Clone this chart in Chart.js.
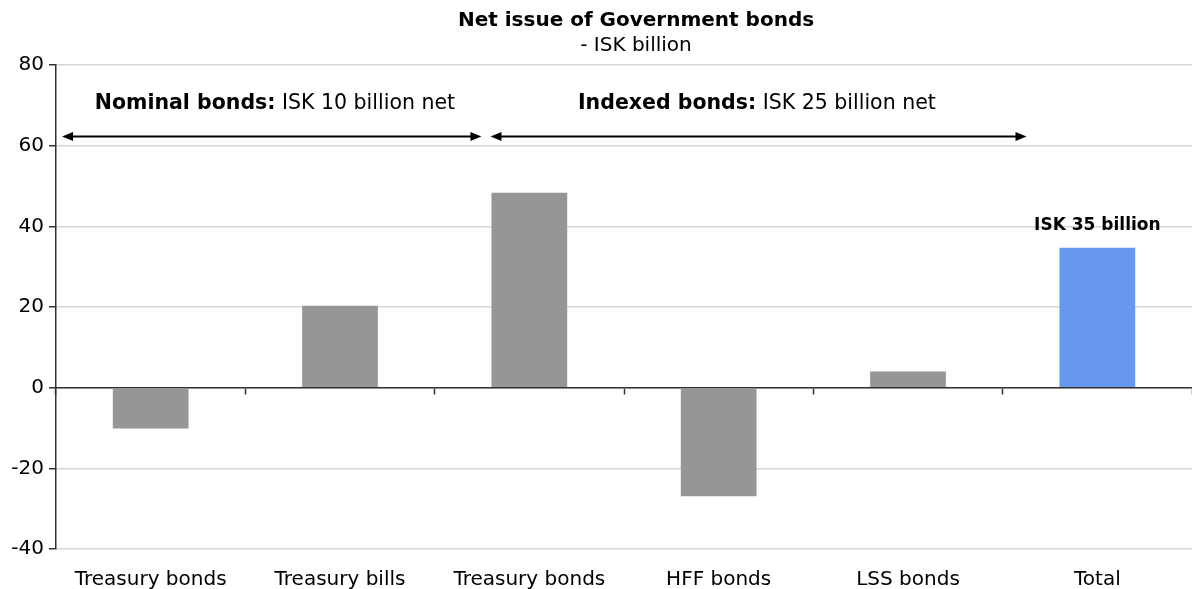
<!DOCTYPE html>
<html>
<head>
<meta charset="utf-8">
<script src="https://cdn.jsdelivr.net/npm/chart.js@4/dist/chart.umd.min.js"></script>
<style>
  html, body { margin: 0; padding: 0; background: #fff; }
  #wrap { width: 1192px; height: 589px; position: relative; }
</style>
</head>
<body>
<div id="wrap"><canvas id="bondsChart"></canvas></div>
<script>
// Categories and values (ISK billion)
const categories = ['Treasury bonds', 'Treasury bills', 'Treasury bonds', 'HFF bonds', 'LSS bonds', 'Total'];
const netIssue = [-10.1, 20.3, 48.3, -26.9, 4.0, 34.7];
const barColors = ['#969696', '#969696', '#969696', '#969696', '#969696', '#6699EE'];
const yTicks = { min: -40, max: 80, step: 20 };

const titleText = 'Net issue of Government bonds';
const subtitleText = '- ISK billion';
const totalLabel = 'ISK 35 billion';

// Bracket notes above the bars: text start and arrow span in category units
const spanNotes = [
    { bold: 'Nominal bonds:', rest: ' ISK 10 billion net', textAt: -0.295, from: -0.468, to: 1.747 },
    { bold: 'Indexed bonds:', rest: ' ISK 25 billion net', textAt: 2.257, from: 1.795, to: 4.626 }
];
const noteTextValue = 70.3;
const noteArrowValue = 62.3;

const FONT = '"DejaVu Sans", Verdana, sans-serif';

function drawArrowHead(ctx, x, y, dir) {
    ctx.beginPath();
    ctx.moveTo(x, y);
    ctx.lineTo(x - dir * 11, y - 4.5);
    ctx.lineTo(x - dir * 11, y + 4.5);
    ctx.closePath();
    ctx.fill();
}

const overlayPlugin = {
    id: 'overlay',
    afterDraw(chart) {
        const ctx = chart.ctx;
        const xs = chart.scales.x;
        const ys = chart.scales.y;
        const area = chart.chartArea;
        const cx = (area.left + area.right) / 2 + 12;
        ctx.save();
        ctx.fillStyle = '#000';
        ctx.textBaseline = 'middle';

        // title + subtitle
        ctx.textAlign = 'center';
        ctx.font = 'bold 20px ' + FONT;
        ctx.fillText(titleText, cx, 21);
        ctx.font = '20px ' + FONT;
        ctx.fillText(subtitleText, cx, 46);

        // span notes with double arrows
        spanNotes.forEach(n => {
            const tx = xs.getPixelForValue(n.textAt);
            const ty = ys.getPixelForValue(noteTextValue);
            ctx.textAlign = 'left';
            ctx.font = 'bold 20.5px ' + FONT;
            ctx.fillText(n.bold, tx, ty);
            const w = ctx.measureText(n.bold).width;
            ctx.font = '20.5px ' + FONT;
            ctx.fillText(n.rest, tx + w, ty);

            const x1 = xs.getPixelForValue(n.from);
            const x2 = xs.getPixelForValue(n.to);
            const ay = ys.getPixelForValue(noteArrowValue);
            ctx.strokeStyle = '#000';
            ctx.lineWidth = 2;
            ctx.beginPath();
            ctx.moveTo(x1 + 6, ay);
            ctx.lineTo(x2 - 6, ay);
            ctx.stroke();
            drawArrowHead(ctx, x1, ay, -1);
            drawArrowHead(ctx, x2, ay, 1);
        });

        // label over the Total bar
        const last = categories.length - 1;
        const bar = chart.getDatasetMeta(0).data[last];
        ctx.textAlign = 'center';
        ctx.font = 'bold 17px ' + FONT;
        ctx.fillText(totalLabel, bar.x, bar.y - 22);
        ctx.restore();
    }
};

const ctx = document.getElementById('bondsChart').getContext('2d');
new Chart(ctx, {
    type: 'bar',
    data: {
        labels: categories,
        datasets: [{
            data: netIssue,
            backgroundColor: barColors,
            borderWidth: 0,
            barPercentage: 0.4,
            categoryPercentage: 1.0
        }]
    },
    options: {
        responsive: true,
        maintainAspectRatio: false,
        animation: false,
        layout: { padding: { top: 65, right: 0, bottom: 0, left: 0 } },
        plugins: {
            legend: { display: false },
            title: { display: false },
            tooltip: { enabled: false }
        },
        scales: {
            x: {
                type: 'category',
                offset: true,
                grid: { display: false, drawTicks: false },
                border: { display: false },
                ticks: {
                    color: '#000',
                    padding: 19,
                    maxRotation: 0,
                    autoSkip: false,
                    font: { family: FONT, size: 20 }
                },
                afterFit(scale) { scale.height = 40; }
            },
            xZero: {
                type: 'category',
                labels: categories,
                position: { y: 0 },
                offset: true,
                grid: {
                    offset: true,
                    drawOnChartArea: false,
                    drawTicks: true,
                    tickLength: 6,
                    tickColor: '#333',
                    tickWidth: 1.5
                },
                border: { display: true, color: '#333', width: 1.5 },
                ticks: { display: false }
            },
            y: {
                min: yTicks.min,
                max: yTicks.max,
                grid: {
                    color: '#d6d6d6',
                    lineWidth: 1.5,
                    tickColor: '#333',
                    tickLength: 7,
                    tickWidth: 1.5
                },
                border: { display: true, color: '#333', width: 1.5 },
                ticks: {
                    stepSize: yTicks.step,
                    color: '#000',
                    padding: 5,
                    font: { family: FONT, size: 20 }
                },
                afterFit(scale) { scale.width = 56; }
            }
        }
    },
    plugins: [overlayPlugin]
});
</script>
</body>
</html>
